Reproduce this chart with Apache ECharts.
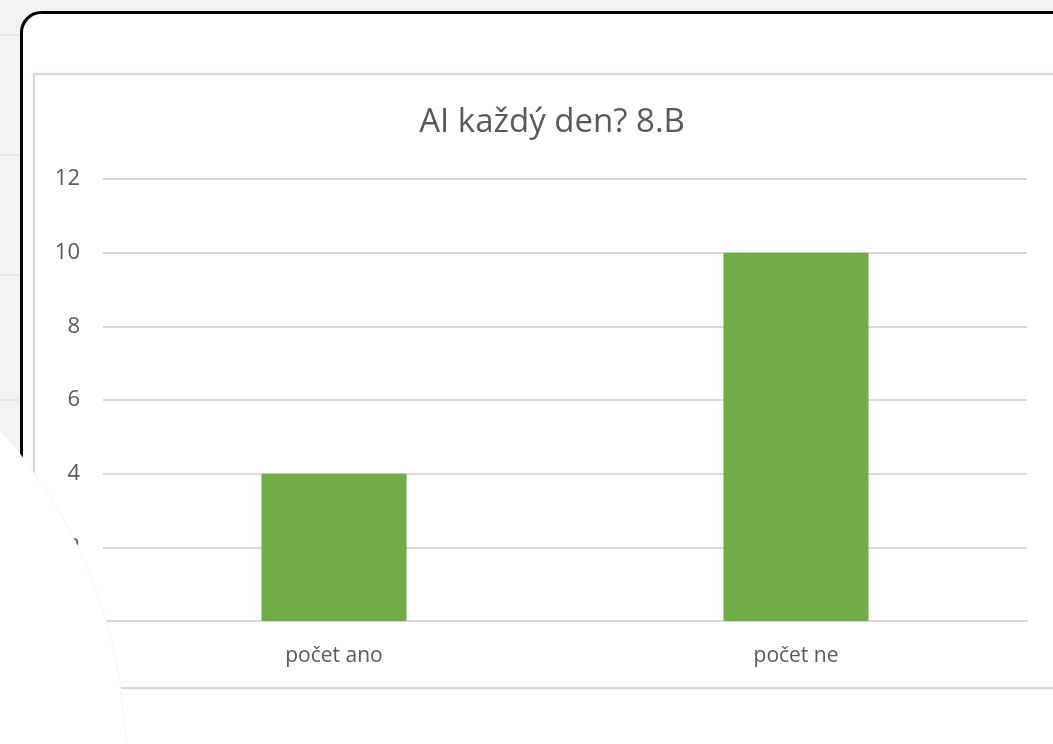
<!DOCTYPE html>
<html>
<head>
<meta charset="utf-8">
<script src="https://cdn.jsdelivr.net/npm/echarts@6/dist/echarts.min.js"></script>
<style>
html, body { margin: 0; padding: 0; background: #f3f3f3; }
#chart-0 { width: 1053px; height: 744px; }
</style>
</head>
<body>
<div id="chart-0"></div>
<script>
var titleText = 'AI každý den? 8.B';
var categories = ['počet ano', 'počet ne'];
var values = [4, 10];
var yMin = 0, yMax = 12, yStep = 2;

var chart = echarts.init(document.getElementById('chart-0'));
var textColor = '#595959';
var lineColor = '#d9d9d9';

var option = {
    animation: false,
    backgroundColor: '#f3f3f3',
    textStyle: { fontFamily: 'Open Sans' },
    title: {
        text: titleText,
        left: 547,
        textAlign: 'center',
        top: 101,
        textStyle: { fontSize: 33, fontWeight: 'normal', color: textColor, fontFamily: 'Open Sans' }
    },
    grid: { left: 103, right: 26, top: 179, bottom: 123 },
    xAxis: {
        type: 'category',
        data: categories,
        axisLine: { lineStyle: { color: lineColor, width: 2 } },
        axisTick: { show: false },
        axisLabel: { color: textColor, fontSize: 21, margin: 25 }
    },
    yAxis: {
        type: 'value',
        min: yMin,
        max: yMax,
        interval: yStep,
        axisLine: { show: false },
        axisTick: { show: false },
        axisLabel: { color: textColor, fontSize: 22, margin: 23 },
        splitLine: { lineStyle: { color: lineColor, width: 2 } }
    },
    series: [{
        type: 'bar',
        data: values,
        barWidth: '31.4%',
        itemStyle: { color: '#70ad47' }
    }],
    graphic: [
        { type: 'line', z: -100, shape: { x1: 0, y1: 35, x2: 21, y2: 35 }, style: { stroke: '#e3e8ef', lineWidth: 2 } },
        { type: 'line', z: -100, shape: { x1: 0, y1: 155, x2: 21, y2: 155 }, style: { stroke: '#e3e8ef', lineWidth: 2 } },
        { type: 'line', z: -100, shape: { x1: 0, y1: 275, x2: 21, y2: 275 }, style: { stroke: '#e3e8ef', lineWidth: 2 } },
        { type: 'line', z: -100, shape: { x1: 0, y1: 400, x2: 21, y2: 400 }, style: { stroke: '#e3e8ef', lineWidth: 2 } },
        {
            type: 'rect', z: -90,
            shape: { x: 21.5, y: 12.5, width: 1200, height: 900, r: 20 },
            style: { fill: '#ffffff', stroke: '#000000', lineWidth: 3 }
        },
        {
            type: 'rect', z: -80,
            shape: { x: 34, y: 74, width: 1200, height: 614 },
            style: { fill: '#ffffff', stroke: lineColor, lineWidth: 2, shadowBlur: 3, shadowColor: 'rgba(0,0,0,0.08)' }
        },
        {
            type: 'circle', z: 100,
            shape: { cx: -369, cy: 760, r: 495 },
            style: { fill: '#ffffff', stroke: '#f6f6f6', lineWidth: 1 }
        }
    ]
};
chart.setOption(option);
</script>
</body>
</html>
